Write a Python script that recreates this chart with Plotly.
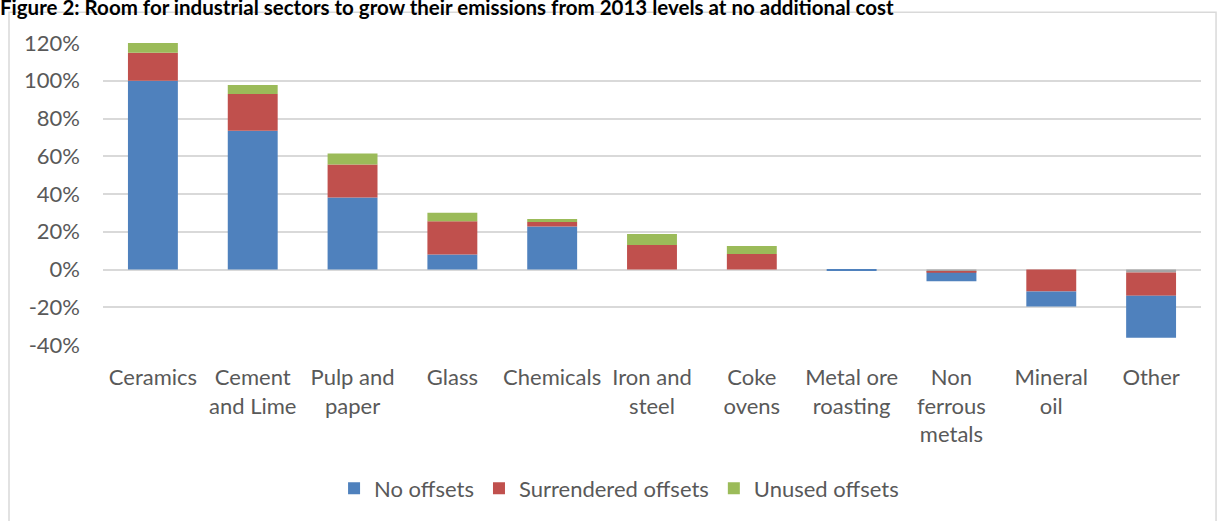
import plotly.graph_objects as go

categories = ["Ceramics", "Cement<br>and Lime", "Pulp and<br>paper", "Glass", "Chemicals",
              "Iron and<br>steel", "Coke<br>ovens", "Metal ore<br>roasting",
              "Non<br>ferrous<br>metals", "Mineral<br>oil", "Other"]
no_offsets = [100.0, 73.5, 38.2, 7.9, 22.8, 0.0, 0.0, -0.3, -4.5, -7.9, -22.2]
surrendered_offsets = [14.8, 19.5, 17.4, 17.6, 2.3, 13.0, 8.2, 0.0, -0.4, -11.7, -12.3]
unused_offsets = [5.2, 4.8, 5.8, 4.6, 1.6, 5.8, 4.3, 0.0, 0.0, 0.0, 0.0]
grey_series = [0.0, 0.0, 0.0, 0.0, 0.0, 0.0, 0.0, 0.0, -1.3, 0.0, -1.6]
y_ticks = [-40, -20, 0, 20, 40, 60, 80, 100, 120]
y_tick_labels = ["-40%", "-20%", "0%", "20%", "40%", "60%", "80%", "100%", "120%"]

BLUE, RED, GREEN, GREY = "#4F81BD", "#C0504D", "#9BBB59", "#A5A5A5"
FONT = "Lato"
TXT = "#595959"

surr_neg = [v if v < 0 else 0 for v in surrendered_offsets]
surr_pos = [v if v > 0 else 0 for v in surrendered_offsets]

fig = go.Figure()
fig.add_bar(x=categories, y=grey_series, marker_color=GREY, showlegend=False, name="Other")
fig.add_bar(x=categories, y=surr_neg, marker_color=RED, showlegend=False, name="Surrendered offsets")
fig.add_bar(x=categories, y=no_offsets, marker_color=BLUE, name="No offsets", legendrank=1)
fig.add_bar(x=categories, y=surr_pos, marker_color=RED, name="Surrendered offsets", legendrank=2)
fig.add_bar(x=categories, y=unused_offsets, marker_color=GREEN, name="Unused offsets", legendrank=3)
fig.update_traces(marker_line_width=0)

fig.update_layout(
    width=1217, height=521,
    barmode="relative", bargap=0.5,
    plot_bgcolor="white", paper_bgcolor="white",
    margin=dict(l=103, r=16, t=43, b=176, autoexpand=False),
    font=dict(family=FONT, size=22, color=TXT),
    title=dict(text="<b>Figure 2: Room for industrial sectors to grow their emissions from 2013 levels at no additional cost</b>",
               x=0, xanchor="left", xref="container", y=1 - 8 / 521, yanchor="middle",
               font=dict(family=FONT, size=20.5, color="#000000"), automargin=False),
    legend=dict(orientation="h", x=0.47, xanchor="center", y=-0.475, yanchor="middle",
                font=dict(size=22, color=TXT), itemwidth=30, traceorder="normal"),
    xaxis=dict(showgrid=False, showline=False, ticks="", tickfont=dict(size=22, color=TXT),
               tickangle=0, automargin=False, ticklabelstandoff=17),
    yaxis=dict(range=[-40, 120], tickmode="array", tickvals=y_ticks, ticktext=y_tick_labels,
               showgrid=True, gridcolor="#D9D9D9", gridwidth=1.5, zeroline=True,
               zerolinecolor="#D9D9D9", zerolinewidth=1.5, showline=False,
               ticklabelstandoff=22, automargin=False,
               tickfont=dict(size=22, color=TXT)),
    shapes=[dict(type="rect", xref="paper", yref="paper", x0=-0.0856, x1=1.0137,
                 y0=-0.7, y1=1.1015, line=dict(color="#D9D9D9", width=1.5), layer="below")],
)

fig.write_html("out.html", config={"displayModeBar": False},
               post_script="document.body.style.margin='0';")
